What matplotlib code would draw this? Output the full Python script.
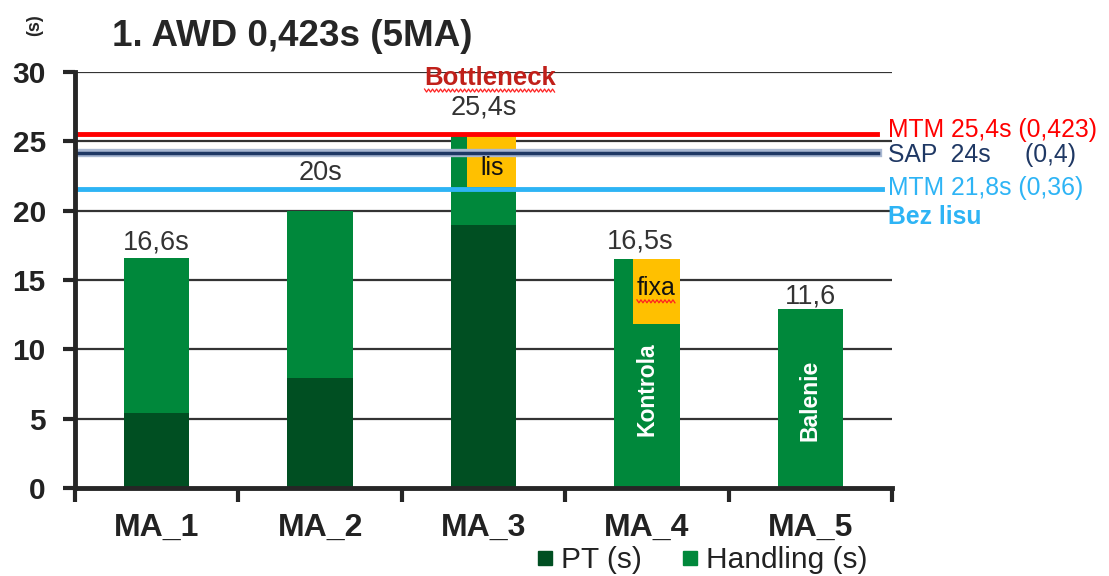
import matplotlib
matplotlib.use("Agg")
import numpy as np
import matplotlib.pyplot as plt
from matplotlib.lines import Line2D

plt.rcParams['font.family'] = ['Liberation Sans', 'DejaVu Sans']

# ---- data ----
categories = ["MA_1", "MA_2", "MA_3", "MA_4", "MA_5"]
pt_values = [5.4, 7.9, 19.0, 0.0, 0.0]
handling_values = [11.2, 12.1, 6.5, 16.5, 12.9]
value_labels = ["16,6s", "20s", "25,4s", "16,5s", "11,6"]
overlay_cat = [2, 3]
overlay_bottom = [21.7, 11.8]
overlay_top = [25.4, 16.5]
overlay_text = ["lis", "fixa"]
inner_cat = [3, 4]
inner_text = ["Kontrola", "Balenie"]
ref_values = [25.55, 24.15, 21.55]
ref_labels = ["MTM 25,4s (0,423)", "SAP  24s     (0,4)", "MTM 21,8s (0,36)"]
title = "1. AWD 0,423s (5MA)"
yticks = [0, 5, 10, 15, 20, 25, 30]

# ---- styles ----
C_PT = "#004F22"
C_HAND = "#00883B"
C_YEL = "#FFC000"
C_RED = "#FF0000"
C_NAVY = "#1F3864"
C_LBLUE = "#2EB4F5"
C_TXT = "#333333"

fig = plt.figure(figsize=(11.09, 5.76), dpi=100)
ax = fig.add_axes([75/1109, 88/576, 817/1109, 416/576])

x = list(range(len(categories)))
bw = 0.4
ax.bar(x, pt_values, bw, color=C_PT, zorder=3, label="PT (s)")
ax.bar(x, handling_values, bw, bottom=pt_values, color=C_HAND, zorder=3, label="Handling (s)")

# yellow overlays
ov_frac = [0.75, 0.71]
for i, c in enumerate(overlay_cat):
    w = bw * ov_frac[i]
    xc = c + bw / 2 - w / 2
    ax.bar(xc, overlay_top[i] - overlay_bottom[i], w, bottom=overlay_bottom[i],
           color=C_YEL, zorder=4)

# reference lines
ax.axhline(ref_values[1], xmin=0, xmax=0.983, color="#A9B8D2", lw=6, zorder=5)
ax.axhline(ref_values[1], xmin=0, xmax=0.983, color=C_NAVY, lw=2.5, zorder=6)
ax.axhline(ref_values[0], xmin=0, xmax=0.982, color=C_RED, lw=3.5, zorder=6)
ax.axhline(ref_values[2], xmin=0, xmax=0.988, color=C_LBLUE, lw=3.5, zorder=6)

# gridlines
for t in yticks[1:]:
    ax.axhline(t, color="#333333", lw=1.6, zorder=1)

ax.set_xlim(-0.5, 4.5)
ax.set_ylim(0, 30)
ax.set_yticks(yticks)
ax.set_yticklabels([str(t) for t in yticks], fontsize=21.5, fontweight="bold", color="#222222")
ax.set_xticks(x)
ax.set_xticklabels(categories, fontsize=23, fontweight="bold", color="#222222")
ax.set_xticks([i - 0.5 for i in range(len(categories) + 1)], minor=True)
ax.tick_params(axis="x", which="major", length=0, pad=18)
ax.tick_params(axis="x", which="minor", length=10, width=3, color="#262626", direction="out")
ax.tick_params(axis="y", length=9, width=3, color="#262626", pad=12)
for s in ["top", "right"]:
    ax.spines[s].set_visible(False)
for s in ["left", "bottom"]:
    ax.spines[s].set_linewidth(3.5)
    ax.spines[s].set_color("#262626")
    ax.spines[s].set_zorder(7)

# value labels
offs = [(0, 2), (0, 25), (0, 14), (-7, 5), (0, 0)]
for i, lab in enumerate(value_labels):
    top = pt_values[i] + handling_values[i]
    ax.annotate(lab, (x[i], top), xytext=(offs[i][0] * 0.72, offs[i][1] * 0.72),
                textcoords="offset points", ha="center", va="bottom",
                fontsize=19.5, color=C_TXT, zorder=8)

t_bn = ax.annotate("Bottleneck", (2, 30), xytext=(5, -4), textcoords="offset points",
                   ha="center", va="center", fontsize=18.5, fontweight="bold",
                   color="#C0201A", zorder=8, annotation_clip=False)

# overlay texts
ov_ty = [23.1, 14.4]
ov_texts = []
for i, c in enumerate(overlay_cat):
    w = bw * ov_frac[i]
    xc = c + bw / 2 - w / 2
    ov_texts.append(ax.text(xc, ov_ty[i], overlay_text[i], ha="center", va="center",
                            fontsize=18, color="#111111", zorder=8))

inner_y = [7.1, 6.3]
for i, c in enumerate(inner_cat):
    ax.text(c, inner_y[i], inner_text[i], rotation=90, ha="center", va="center",
            fontsize=16.5, fontweight="bold", color="white", zorder=8)

# right labels
tr = ax.get_yaxis_transform()
ry = [25.8, 24.0, 21.63]
rc = [C_RED, C_NAVY, C_LBLUE]
for i, lab in enumerate(ref_labels):
    ax.text(0.995, ry[i], lab, transform=tr, ha="left", va="center",
            fontsize=17.8, color=rc[i], clip_on=False)
ax.text(0.995, 19.55, "Bez lisu", transform=tr, ha="left", va="center",
        fontsize=17.8, fontweight="bold", color=C_LBLUE, clip_on=False)

fig.text(112/1109, 1 - 37/576, title, ha="left", va="center",
         fontsize=26.5, fontweight="bold", color="#262626")
fig.text(35/1109, 1 - 25/576, "(s)", rotation=90, ha="center", va="center",
         fontsize=13, fontweight="bold", color="#262626")

handles = [Line2D([], [], marker="s", ls="", color=C_PT, markersize=10),
           Line2D([], [], marker="s", ls="", color=C_HAND, markersize=10)]
fig.legend(handles, ["PT (s)", "Handling (s)"], loc="center",
           bbox_to_anchor=(702/1109, 16/576), ncol=2, frameon=False,
           fontsize=21.5, handlelength=0.6, handletextpad=0.25, columnspacing=1.3,
           labelcolor="#222222")

# spell-check style wavy underlines
fig.canvas.draw()
renderer = fig.canvas.get_renderer()
inv = fig.transFigure.inverted()
for t in [t_bn, ov_texts[1]]:
    bb = t.get_window_extent(renderer)
    xs = np.arange(bb.x0, bb.x1 + 0.1, 2.0)
    ys = bb.y0 - 1 + 1.5 * np.where((np.arange(len(xs)) % 2) == 0, 1, -1)
    pts = inv.transform(np.column_stack([xs, ys]))
    fig.add_artist(Line2D(pts[:, 0], pts[:, 1], color="#FF2020", lw=0.9,
                          transform=fig.transFigure, zorder=9))

fig.savefig("out.png", dpi=100)
